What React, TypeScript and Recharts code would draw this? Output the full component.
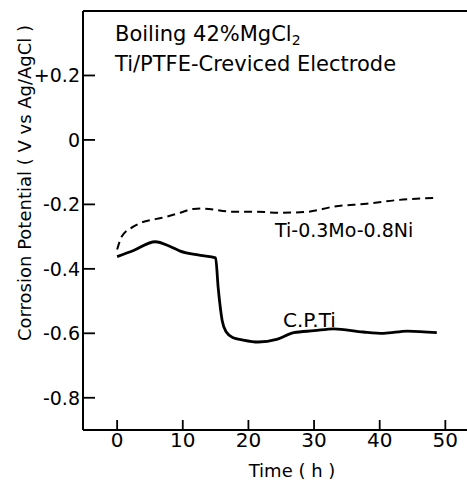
import React from 'react';
import { LineChart, Line, XAxis, YAxis, ReferenceLine } from 'recharts';

// C.P. Ti (solid)
const cpTiTime = [0, 2.5, 5.8, 8, 9.6, 12.7, 15, 15.4, 16, 16.6, 17.7, 19, 21.5, 24.3, 26.9, 30, 33, 37.5, 40.6, 44.2, 48.7];
const cpTiPot = [-0.362, -0.343, -0.316, -0.33, -0.345, -0.358, -0.366, -0.46, -0.56, -0.595, -0.614, -0.62, -0.627, -0.619, -0.598, -0.592, -0.586, -0.596, -0.6, -0.593, -0.598];

// Ti-0.3Mo-0.8Ni (dashed)
const alloyTime = [0, 0.7, 2.4, 3.5, 6, 7.6, 9.6, 11.6, 13, 17.7, 21.3, 24.8, 29, 33, 38, 43, 48.8];
const alloyPot = [-0.34, -0.3, -0.27, -0.258, -0.245, -0.238, -0.226, -0.214, -0.213, -0.223, -0.223, -0.226, -0.223, -0.207, -0.198, -0.186, -0.18];

const xTicks = [0, 10, 20, 30, 40, 50];
const yTicks = [-0.8, -0.6, -0.4, -0.2, 0, 0.2];
const xDomain: [number, number] = [-5.2, 53.3];
const yDomain: [number, number] = [-0.9, 0.4];

const cpTiData = cpTiTime.map((t, i) => ({ t, v: cpTiPot[i] }));
const alloyData = alloyTime.map((t, i) => ({ t, v: alloyPot[i] }));

const FONT = '"DejaVu Sans", sans-serif';

const fmtY = (v: number) => (v > 0 ? `+${v.toFixed(1)}` : v === 0 ? '0' : v.toFixed(1));

export default function App() {
  return (
    <div style={{ position: 'absolute', left: 0, top: 0, width: 467, height: 483, background: '#fff' }}>
      <LineChart width={467} height={483} margin={{ top: 11, right: 0, bottom: 0, left: 0 }}>
        <XAxis
          dataKey="t"
          type="number"
          domain={xDomain}
          ticks={xTicks}
          allowDataOverflow
          height={53}
          tickSize={-10}
          tickMargin={13}
          tickLine={{ stroke: '#000', strokeWidth: 1.8 }}
          axisLine={{ stroke: '#000', strokeWidth: 2 }}
          tick={{ fill: '#000', fontSize: 20, fontFamily: FONT }}
        />
        <YAxis
          dataKey="v"
          type="number"
          domain={yDomain}
          ticks={yTicks}
          allowDataOverflow
          width={83}
          tickSize={-12}
          tickMargin={15}
          tickFormatter={fmtY}
          tickLine={{ stroke: '#000', strokeWidth: 1.8 }}
          axisLine={{ stroke: '#000', strokeWidth: 2 }}
          tick={{ fill: '#000', fontSize: 19, fontFamily: FONT }}
        />
        <ReferenceLine y={0.4} stroke="#000" strokeWidth={2} />
        <Line
          data={alloyData}
          dataKey="v"
          type="monotone"
          stroke="#000"
          strokeWidth={2}
          strokeDasharray="8 5"
          dot={false}
          isAnimationActive={false}
        />
        <Line
          data={cpTiData}
          dataKey="v"
          type="monotone"
          stroke="#000"
          strokeWidth={2.8}
          dot={false}
          isAnimationActive={false}
        />
      </LineChart>
      <svg
        width={467}
        height={483}
        style={{ position: 'absolute', left: 0, top: 0, pointerEvents: 'none' }}
        fontFamily={FONT}
        fill="#000"
      >
        <text x={115} y={41} fontSize={21}>
          Boiling 42%MgCl<tspan fontSize={14} dy={4}>2</tspan>
        </text>
        <text x={115} y={71} fontSize={21}>Ti/PTFE-Creviced Electrode</text>
        <text x={275} y={237} fontSize={19}>Ti-0.3Mo-0.8Ni</text>
        <text x={283} y={327} fontSize={20}>C.P.Ti</text>
        <text x={292} y={477} fontSize={18} textAnchor="middle">Time ( h )</text>
        <text x={31} y={183} fontSize={18} textAnchor="middle" transform="rotate(-90 31 183)">
          Corrosion Potential ( V vs Ag/AgCl )
        </text>
      </svg>
    </div>
  );
}
